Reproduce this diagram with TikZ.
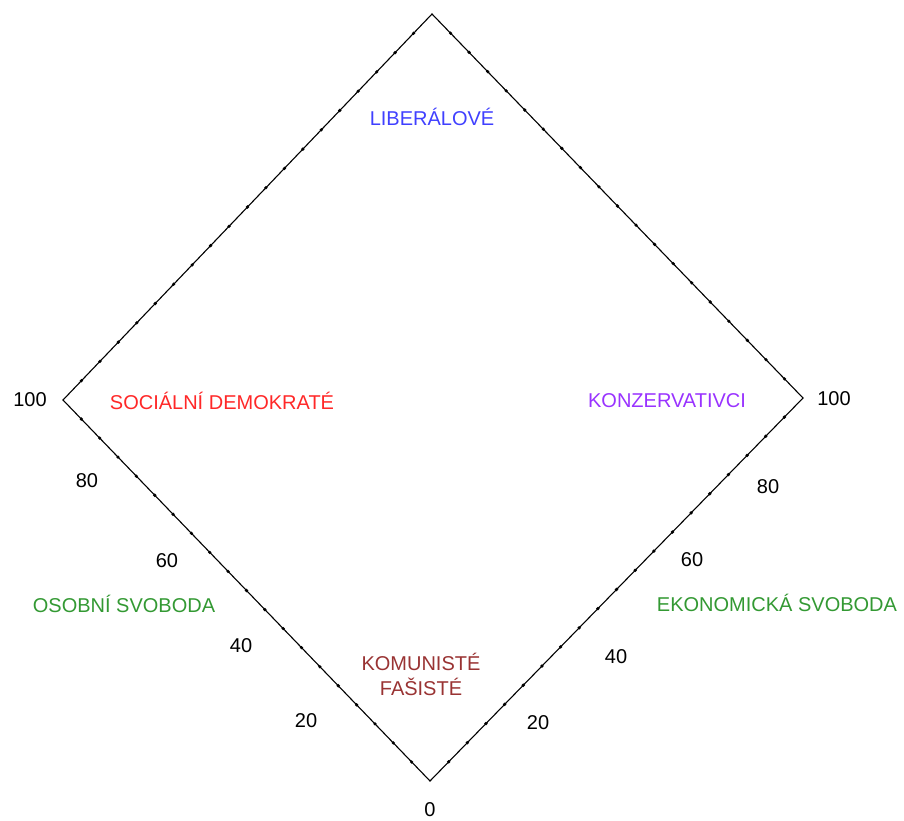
\documentclass[tikz,border=0pt]{standalone}
\usepackage{fontspec}
\setmainfont{Liberation Sans}
\usepackage{tikz}
\usetikzlibrary{calc}
\definecolor{libblue}{RGB}{64,64,255}
\definecolor{socred}{RGB}{255,40,40}
\definecolor{konpurple}{RGB}{153,51,255}
\definecolor{svgreen}{RGB}{51,153,51}
\definecolor{komred}{RGB}{153,51,51}
\tikzset{
  lbl/.style={font=\fontsize{20}{23}\selectfont, inner sep=0pt},
  osa/.style={draw=black, line width=1.1pt},
  tecka/.style={fill=black, circle, inner sep=0pt, minimum size=3.6pt}
}

\begin{document}
\begin{tikzpicture}[x=1pt,y=-1pt]
\useasboundingbox (0,0) rectangle (904,821);
% vrcholy
\coordinate (horni) at (432,14);
\coordinate (levy) at (63,400);
\coordinate (pravy) at (803,398);
\coordinate (dolni) at (430,781);
\draw[osa] (horni) -- (pravy) -- (dolni) -- (levy) -- cycle;
% tecky na hranach
\foreach \t in {0.05,0.1,...,0.96}{
  \node[tecka] at ($(horni)!\t!(levy)$) {};
  \node[tecka] at ($(horni)!\t!(pravy)$) {};
  \node[tecka] at ($(dolni)!\t!(levy)$) {};
  \node[tecka] at ($(dolni)!\t!(pravy)$) {};
}
% stupnice
\node[lbl] (l100) at (30,400) {100};
\node[lbl] (l80) at (87,481) {80};
\node[lbl] (l60) at (167,561) {60};
\node[lbl] (l40) at (241,646) {40};
\node[lbl] (l20) at (306,721) {20};
\node[lbl] (p100) at (834,399) {100};
\node[lbl] (p80) at (768,487) {80};
\node[lbl] (p60) at (692,560) {60};
\node[lbl] (p40) at (616,657) {40};
\node[lbl] (p20) at (538,723) {20};
\node[lbl] (nula) at (430,810) {0};
% skupiny
\node[lbl, text=libblue] (liberalove) at (432,117) {LIBERÁLOVÉ};
\node[lbl, text=socred] (socdem) at (222,401) {SOCIÁLNÍ DEMOKRATÉ};
\node[lbl, text=konpurple] (konzervativci) at (667,401) {KONZERVATIVCI};
\node[lbl, text=komred, align=center] (komunisti) at (421,674)
  {KOMUNISTÉ\\[2pt]FAŠISTÉ};
% osy
\node[lbl, text=svgreen] (osobni) at (124,604) {OSOBNÍ SVOBODA};
\node[lbl, text=svgreen] (ekonomicka) at (777,603) {EKONOMICKÁ SVOBODA};
\end{tikzpicture}
\end{document}
